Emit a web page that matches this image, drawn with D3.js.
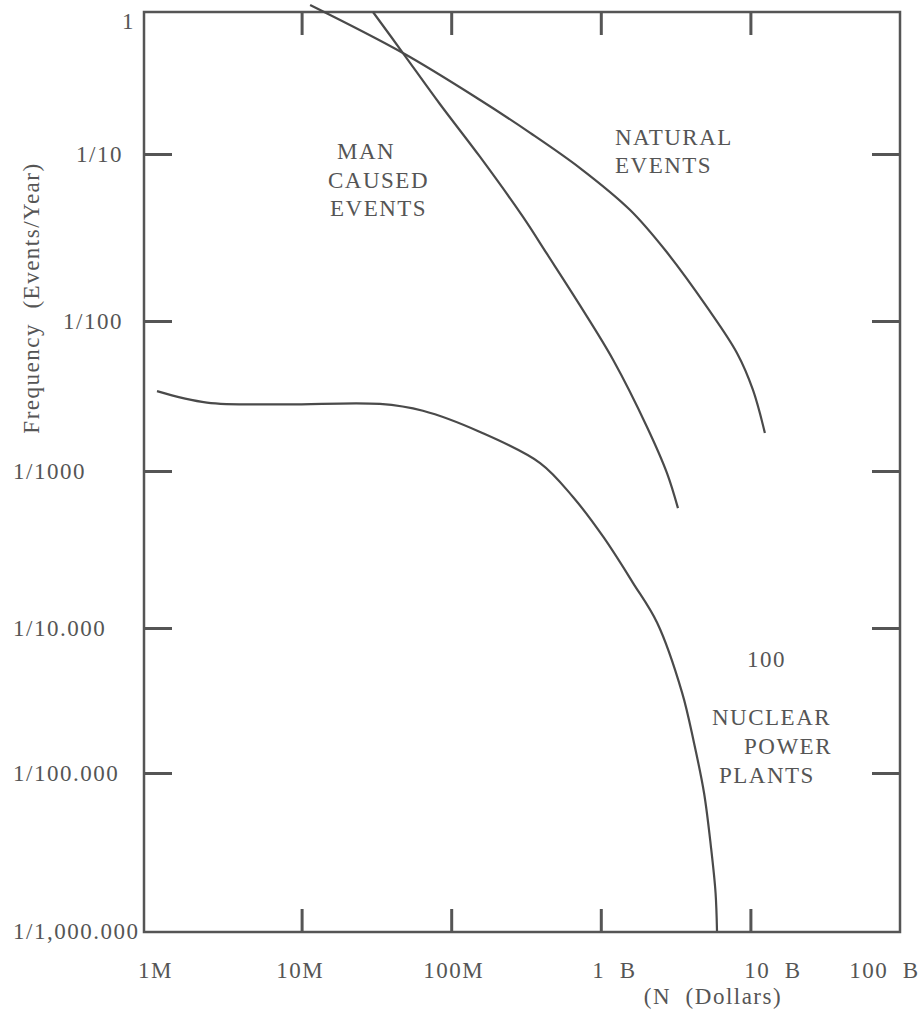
<!DOCTYPE html>
<html>
<head>
<meta charset="utf-8">
<script src="https://cdn.jsdelivr.net/npm/d3@7"></script>
<style>
  body { margin: 0; background: #fff; }
  text { font-family: "Liberation Serif", "DejaVu Serif", serif; fill: #555; white-space: pre; }
</style>
</head>
<body>
<div id="chart"></div>
<script>
// values (dollars, events per year)
var xTicks = [1e6, 1e7, 1e8, 1e9, 1e10, 1e11];
var xLabels = ["1M", "10M", "100M", "1  B", "10  B", "100  B"];
var yTicks = [1, 1e-1, 1e-2, 1e-3, 1e-4, 1e-5, 1e-6];
var yLabels = ["1", "1/10", "1/100", "1/1000", "1/10.000", "1/100.000", "1/1,000.000"];

var manDollars = [3.0e7, 4.76e7, 8.4e7, 1.56e8, 3.02e8, 4.37e8, 7.26e8, 1.21e9, 2.04e9, 2.77e9, 3.28e9];
var manFreq    = [1.0, 0.514, 0.225, 0.096, 0.042, 0.0252, 0.0124, 0.0055, 0.00196, 0.00097, 0.00058];

var natDollars = [1.14e7, 4.76e7, 1.56e8, 3.37e8, 7.26e8, 1.57e9, 2.69e9, 5.13e9, 8.13e9, 1.04e10, 1.25e10];
var natFreq    = [1.12, 0.514, 0.240, 0.141, 0.0824, 0.0462, 0.0266, 0.0121, 0.00612, 0.00347, 0.00179];

var nucDollars = [1.08e6, 2.33e6, 7.52e6, 3.34e7, 6.47e7, 1.56e8, 3.93e8, 6.52e8, 1.04e9, 1.64e9,
                  2.38e9, 3.49e9, 4.2e9, 4.9e9, 5.45e9, 5.85e9, 5.98e9];
var nucFreq    = [0.00341, 0.00286, 0.00278, 0.00280, 0.00252, 0.00182, 0.00113, 0.000683, 0.00038, 0.000194,
                  0.000108, 3.6e-5, 1.61e-5, 7.47e-6, 3.4e-6, 1.74e-6, 1e-6];

var w = 922, h = 1011;
var plotLeft = 144, plotRight = 900, plotTop = 12, plotBottom = 932;

var svg = d3.select("#chart").append("svg")
    .attr("width", w)
    .attr("height", h);

var x = d3.scaleLog().domain([1e6, 1e11]).range([152, plotRight]);
// the printed decades are not evenly spaced, so the scale follows the drawn ticks
var y = d3.scaleLog().domain(yTicks).range([12, 154, 321, 471, 628, 773, 931]);

var ink = "#555";

// frame
svg.append("rect")
    .attr("x", plotLeft).attr("y", plotTop)
    .attr("width", plotRight - plotLeft).attr("height", plotBottom - plotTop)
    .attr("fill", "none").attr("stroke", ink).attr("stroke-width", 2.5);

// inside ticks on all four sides
var gLeft = svg.append("g").attr("transform", "translate(" + plotLeft + ",0)")
    .call(d3.axisLeft(y).tickValues(yTicks).tickSize(-28).tickFormat(function(d, i) { return yLabels[i]; }));
var gRight = svg.append("g").attr("transform", "translate(" + plotRight + ",0)")
    .call(d3.axisRight(y).tickValues(yTicks.slice(1, 6)).tickSize(-28).tickFormat(""));
var gBottom = svg.append("g").attr("transform", "translate(0," + plotBottom + ")")
    .call(d3.axisBottom(x).tickValues(xTicks).tickSize(-23).tickFormat(function(d, i) { return xLabels[i]; }));
var gTop = svg.append("g").attr("transform", "translate(0," + plotTop + ")")
    .call(d3.axisTop(x).tickValues(xTicks.slice(1, 5)).tickSize(-23).tickFormat(""));

[gLeft, gRight, gBottom, gTop].forEach(function(g) {
  g.select(".domain").remove();
  g.selectAll(".tick line").attr("stroke", ink).attr("stroke-width", 3);
  g.selectAll(".tick text").attr("font-size", 23).attr("letter-spacing", 1.5)
      .attr("font-family", null).attr("fill", ink);
});
// first and last ticks sit on the frame
gBottom.selectAll(".tick line").filter(function(d) { return d === 1e6 || d === 1e11; }).remove();
gLeft.selectAll(".tick line").filter(function(d) { return d === 1 || d === 1e-6; }).remove();

// y tick labels: short ones right aligned, long ones left aligned at the page edge
gLeft.selectAll(".tick text")
    .attr("dy", function(d) { return d === 1 ? "0.72em" : "0.33em"; })
    .attr("text-anchor", function(d) { return d >= 1e-2 ? "end" : "start"; })
    .attr("x", function(d) { return d === 1 ? -9 : (d >= 1e-2 ? -21 : 13 - plotLeft); });

// x tick labels
var xNudge = [3, -2, 2, 13, 22, -16];
gBottom.selectAll(".tick text")
    .attr("y", 46).attr("dy", 0)
    .attr("dx", function(d, i) { return xNudge[i]; });

// curves
var line = d3.line()
    .x(function(d) { return x(d[0]); })
    .y(function(d) { return y(d[1]); })
    .curve(d3.curveCatmullRom.alpha(0.5));

var series = [
  d3.zip(manDollars, manFreq),
  d3.zip(natDollars, natFreq),
  d3.zip(nucDollars, nucFreq)
];

svg.append("g").selectAll("path")
    .data(series)
    .enter().append("path")
    .attr("d", line)
    .attr("fill", "none")
    .attr("stroke", "#4a4a4a")
    .attr("stroke-width", 2.2);

// annotations
var notes = [
  ["MAN", 337, 159], ["CAUSED", 328, 188], ["EVENTS", 330, 216],
  ["NATURAL", 615, 145], ["EVENTS", 615, 173],
  ["100", 747, 667],
  ["NUCLEAR", 712, 725], ["POWER", 744, 754], ["PLANTS", 719, 783]
];
svg.append("g").selectAll("text")
    .data(notes)
    .enter().append("text")
    .attr("x", function(d) { return d[1]; })
    .attr("y", function(d) { return d[2]; })
    .attr("font-size", 23)
    .attr("letter-spacing", 1.5)
    .text(function(d) { return d[0]; });

// axis titles
svg.append("text")
    .attr("transform", "translate(39,298) rotate(-90)")
    .attr("text-anchor", "middle")
    .attr("font-size", 23)
    .attr("letter-spacing", 1.5)
    .text("Frequency  (Events/Year)");

svg.append("text")
    .attr("x", 713).attr("y", 1004)
    .attr("text-anchor", "middle")
    .attr("font-size", 23)
    .attr("letter-spacing", 1.5)
    .text("(N  (Dollars)");
</script>
</body>
</html>
